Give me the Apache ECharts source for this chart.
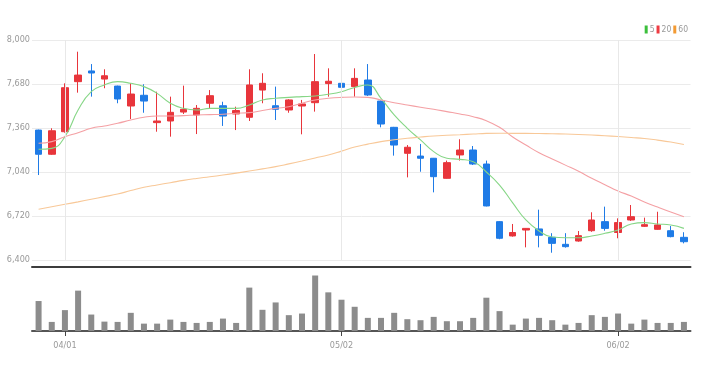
<!DOCTYPE html>
<html>
<head>
<meta charset="utf-8">
<script src="https://cdn.jsdelivr.net/npm/echarts@6/dist/echarts.min.js"></script>
<style>
html,body{margin:0;padding:0;background:#fff;}
#chart{width:705px;height:372px;}
</style>
</head>
<body>
<div id="chart"></div>
<script>
// ---- data ----
var dates = [
  '03/28','03/29','04/01','04/02','04/03','04/04','04/05','04/08','04/09','04/11',
  '04/12','04/15','04/16','04/17','04/18','04/19','04/22','04/23','04/24','04/25',
  '04/26','04/29','04/30','05/02','05/03','05/06','05/07','05/08','05/09','05/10',
  '05/13','05/14','05/16','05/17','05/20','05/21','05/22','05/23','05/24','05/27',
  '05/28','05/29','05/30','05/31','06/02','06/03','06/04','06/05','06/07','06/10'
];
var labelDates = ['04/01','05/02','06/02'];
// [open, close, low, high]
var ohlc = [
  [7345,7169,7018,7348],[7169,7340,7165,7358],[7333,7653,7326,7685],[7697,7745,7617,7915],[7775,7760,7588,7825],
  [7716,7740,7649,7787],[7665,7571,7540,7668],[7520,7607,7425,7685],[7598,7556,7471,7678],[7399,7411,7333,7624],
  [7411,7474,7297,7588],[7476,7496,7462,7668],[7455,7503,7316,7527],[7540,7595,7503,7636],[7522,7447,7375,7551],
  [7462,7487,7345,7515],[7438,7673,7411,7787],[7636,7685,7540,7758],[7522,7496,7418,7661],[7491,7564,7471,7569],
  [7520,7535,7314,7564],[7544,7697,7479,7898],[7683,7700,7588,7794],[7685,7656,7620,7835],[7661,7721,7588,7794],
  [7709,7600,7593,7825],[7556,7389,7365,7560],[7365,7236,7159,7368],[7176,7220,7001,7236],[7156,7140,7042,7244],
  [7140,7006,6892,7142],[6994,7108,6992,7123],[7164,7200,7123,7278],[7200,7098,7091,7229],[7098,6793,6790,7123],
  [6679,6558,6551,6682],[6575,6600,6570,6662],[6618,6630,6492,6632],[6626,6580,6492,6766],[6565,6521,6453,6595],
  [6514,6497,6490,6595],[6538,6577,6533,6611],[6613,6691,6605,6747],[6679,6630,6613,6788],[6600,6672,6558,6703],
  [6691,6715,6684,6800],[6645,6657,6640,6708],[6623,6655,6620,6751],[6613,6570,6565,6647],[6565,6533,6521,6602]
];
var ma5 = [7205,7212,7297,7491,7624,7673,7697,7685,7661,7612,7540,7503,7491,7503,7503,7503,7527,7564,7576,7583,
  7588,7593,7605,7624,7655,7673,7576,7455,7358,7273,7188,7140,7132,7115,7040,6945,6815,6691,6611,6567,
  6562,6562,6575,6594,6618,6662,6672,6662,6655,6630];
var ma20 = [7249,7261,7297,7326,7358,7375,7394,7418,7438,7447,7447,7450,7455,7457,7460,7467,7472,7487,7503,7515,
  7540,7564,7576,7583,7586,7583,7564,7544,7527,7511,7496,7479,7462,7442,7413,7365,7295,7236,7180,7135,
  7090,7045,6995,6948,6902,6865,6822,6785,6749,6715];
var ma60 = [6769,6787,6805,6823,6842,6861,6880,6905,6929,6946,6962,6979,6993,7005,7018,7032,7047,7063,7079,7099,
  7120,7142,7164,7192,7222,7243,7261,7274,7285,7294,7302,7307,7311,7316,7321,7322,7321,7321,7320,7318,
  7316,7313,7309,7304,7298,7291,7284,7272,7258,7240];
var volume = [297,90,207,400,163,93,90,180,73,73,113,90,80,90,123,80,430,210,283,157,
  173,550,383,310,240,130,130,180,117,107,140,97,97,130,330,197,63,123,130,107,
  63,80,157,140,173,73,113,80,80,90];
var yTicks = [6400, 8000, 320];

// ---- chart ----
var FONT = "'Liberation Sans Narrow','DejaVu Sans Condensed',sans-serif";
var UP = '#e8353b', DOWN = '#1f7be6';
function showLabel(i, v){ return labelDates.indexOf(v) >= 0; }

var chart = echarts.init(document.getElementById('chart'), null, {renderer:'canvas'});
chart.setOption({
  animation: false,
  backgroundColor: '#fff',
  legend: {
    data: ['5','20','60'],
    right: 12, top: 20,
    itemWidth: 3, itemHeight: 8, itemGap: 2,
    icon: 'rect',
    textStyle: {fontSize: 8.5, color: '#999', fontFamily: FONT, padding: [0,0,0,-3]}
  },
  grid: [
    {left: 32, right: 14.5, top: 40, height: 220},
    {left: 32, right: 14.5, top: 275.5, height: 55.5}
  ],
  xAxis: [
    {type: 'category', gridIndex: 0, data: dates, boundaryGap: true, offset: 7,
     axisLine: {show: true, lineStyle: {color: '#3d3d3d', width: 2}},
     axisTick: {show: false}, axisLabel: {show: false}, splitLine: {show: false}},
    {type: 'category', gridIndex: 1, data: dates, boundaryGap: true,
     axisLine: {show: true, lineStyle: {color: '#555', width: 2}},
     axisTick: {show: true, alignWithLabel: true, interval: showLabel, length: 5, lineStyle: {color: '#444'}},
     axisLabel: {show: true, interval: showLabel, fontSize: 9, color: '#999', fontFamily: FONT, margin: 10},
     splitLine: {show: false}}
  ],
  yAxis: [
    {type: 'value', gridIndex: 0, min: yTicks[0], max: yTicks[1], interval: yTicks[2],
     axisLine: {show: false}, axisTick: {show: false},
     axisLabel: {fontSize: 9, color: '#999', fontFamily: FONT, margin: 2,
       formatter: function(v){ return v.toLocaleString('en-US'); }},
     splitLine: {lineStyle: {color: '#ebebeb', width: 1}}},
    {type: 'value', gridIndex: 1, min: 0, max: 'dataMax',
     axisLine: {show: false}, axisTick: {show: false}, axisLabel: {show: false}, splitLine: {show: false}}
  ],
  series: [
    {name: 'K', type: 'candlestick', xAxisIndex: 0, yAxisIndex: 0, data: ohlc,
     barWidth: 7,
     itemStyle: {color: UP, color0: DOWN, borderColor: UP, borderColor0: DOWN, borderWidth: 1},
     markLine: {silent: true, symbol: ['none','none'], label: {show: false},
       lineStyle: {color: '#e8e8e8', type: 'solid', width: 1},
       data: labelDates.map(function(d){ return {xAxis: d}; })},
     z: 3},
    {name: '5', type: 'line', xAxisIndex: 0, yAxisIndex: 0, data: ma5, smooth: true, showSymbol: false,
     lineStyle: {color: '#86d686', width: 1.1}, itemStyle: {color: '#3cbf3c'}, z: 4},
    {name: '20', type: 'line', xAxisIndex: 0, yAxisIndex: 0, data: ma20, smooth: true, showSymbol: false,
     lineStyle: {color: '#f4a0a4', width: 1.1}, itemStyle: {color: '#ee3b42'}, z: 4},
    {name: '60', type: 'line', xAxisIndex: 0, yAxisIndex: 0, data: ma60, smooth: true, showSymbol: false,
     lineStyle: {color: '#f8c898', width: 1.1}, itemStyle: {color: '#f39a33'}, z: 4},
    {name: 'Vol', type: 'bar', xAxisIndex: 1, yAxisIndex: 1, data: volume, barWidth: 6,
     itemStyle: {color: '#8c8c8c'}}
  ]
});
</script>
</body>
</html>
